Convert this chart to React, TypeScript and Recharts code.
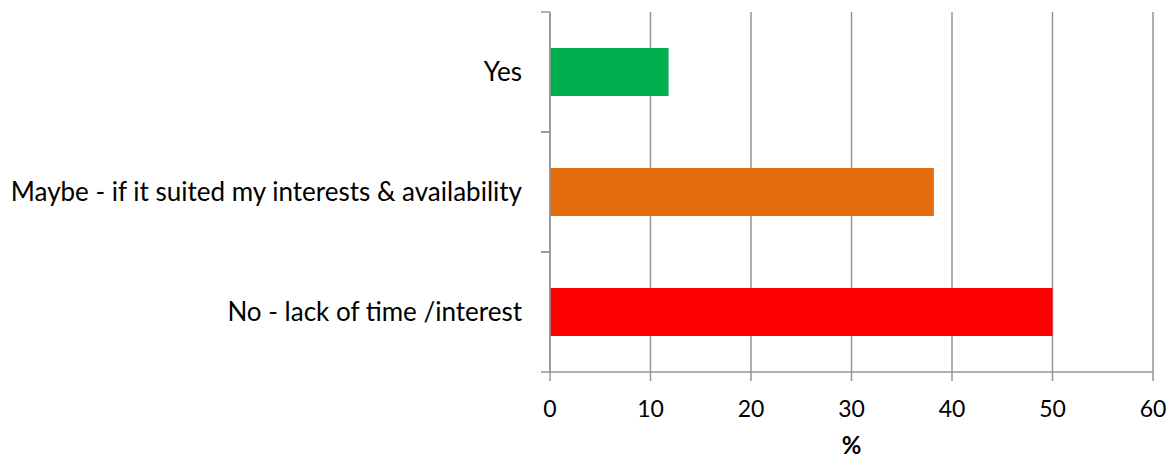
import React from "react";
import { BarChart, Bar, XAxis, YAxis, CartesianGrid, Cell } from "recharts";

const categories = ["Yes", "Maybe - if it suited my interests & availability", "No - lack of time /interest"];
const percentages = [11.8, 38.2, 50.0];
const barColors = ["#00B050", "#E46C0A", "#FF0000"];
const xTicks = [0, 10, 20, 30, 40, 50, 60];

const data = categories.map((name, i) => ({ name, value: percentages[i] }));

const GRAY = "#969696";
const FONT = "Lato, 'Open Sans', sans-serif";
const TICK_MARGIN = 28;
const TICK_LEN = 9;

function CategoryTick(props: any) {
  const { x, y, payload, height, visibleTicksCount } = props;
  const half =
    payload && typeof payload.offset === "number" && payload.offset > 0
      ? payload.offset
      : height / (visibleTicksCount || 1) / 2;
  const axisX = x + TICK_MARGIN;
  return (
    <g>
      <line x1={axisX - TICK_LEN} x2={axisX} y1={y - half} y2={y - half} stroke={GRAY} strokeWidth={1.5} />
      <line x1={axisX - TICK_LEN} x2={axisX} y1={y + half} y2={y + half} stroke={GRAY} strokeWidth={1.5} />
      <text x={x} y={y} dy="0.36em" textAnchor="end" fill="#000" fontSize={26} fontFamily={FONT}>
        {payload.value}
      </text>
    </g>
  );
}

export default function App() {
  return (
    <div style={{ position: "absolute", left: 0, top: 0, width: 1170, height: 460, background: "#fff" }}>
      <BarChart
        width={1170}
        height={460}
        data={data}
        layout="vertical"
        margin={{ top: 12, right: 17, left: 0, bottom: 0 }}
        barCategoryGap="30%"
      >
        <CartesianGrid horizontal={false} stroke={GRAY} strokeWidth={1.5} />
        <XAxis
          type="number"
          domain={[0, 60]}
          ticks={xTicks}
          interval={0}
          height={88}
          tickSize={9}
          tickMargin={20}
          axisLine={{ stroke: GRAY, strokeWidth: 1.5 }}
          tickLine={{ stroke: GRAY, strokeWidth: 1.5 }}
          tick={{ fill: "#000", fontSize: 23, fontFamily: FONT }}
          label={{ value: "%", position: "insideBottom", offset: 6, fill: "#000", fontSize: 24, fontWeight: "bold", fontFamily: FONT }}
        />
        <YAxis
          type="category"
          dataKey="name"
          width={550}
          tickSize={0}
          tickMargin={TICK_MARGIN}
          axisLine={{ stroke: GRAY, strokeWidth: 1.5 }}
          tickLine={false}
          interval={0}
          tick={<CategoryTick />}
        />
        <Bar dataKey="value" isAnimationActive={false}>
          {data.map((d, i) => (
            <Cell key={d.name} fill={barColors[i]} />
          ))}
        </Bar>
      </BarChart>
    </div>
  );
}
